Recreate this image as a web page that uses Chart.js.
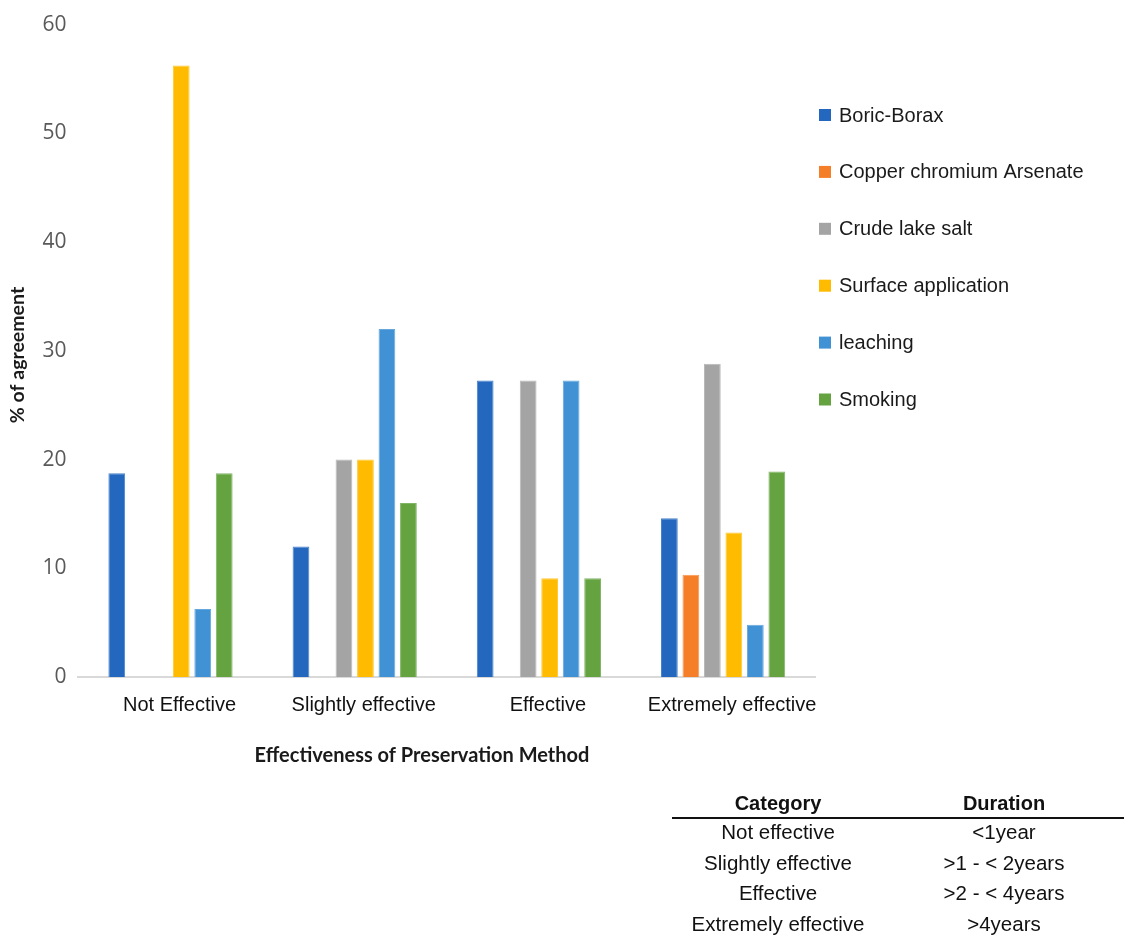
<!DOCTYPE html>
<html>
<head>
<meta charset="utf-8">
<script src="https://cdn.jsdelivr.net/npm/chart.js@4.4.1/dist/chart.umd.min.js"></script>
<style>
  html, body { margin: 0; padding: 0; background: #ffffff; }
  #wrap { position: relative; width: 1124px; height: 937px; overflow: hidden; }
  #chart { position: absolute; left: 0; top: 0; }
  .cell { position: absolute; font-family: "Liberation Sans", Arial, sans-serif; font-size: 20.5px; color: #111; text-align: center; white-space: nowrap; transform: translate(-50%, -50%); }
  .head { font-weight: bold; font-size: 20px; }
  #rule { position: absolute; left: 672px; top: 817px; width: 452px; height: 2px; background: #111; }
</style>
</head>
<body>
<div id="wrap">
  <canvas id="chart" width="1124" height="937"></canvas>
  <div id="rule"></div>
</div>
<script>
// Effectiveness categories on the x axis
const categories = ['Not Effective', 'Slightly effective', 'Effective', 'Extremely effective'];

// % of agreement per preservation method
const boricBorax      = [18.75, 12.0, 27.27, 14.6];
const copperChromium  = [0, 0, 0, 9.4];
const crudeLakeSalt   = [0, 20.0, 27.27, 28.8];
const surfaceApp      = [56.25, 20.0, 9.09, 13.3];
const leaching        = [6.25, 32.0, 27.27, 4.8];
const smoking         = [18.75, 16.0, 9.09, 18.9];

const seriesNames = ['Boric-Borax', 'Copper chromium Arsenate', 'Crude lake salt', 'Surface application', 'leaching', 'Smoking'];
const seriesValues = [boricBorax, copperChromium, crudeLakeSalt, surfaceApp, leaching, smoking];
const seriesColors = ['#2367bf', '#f57f29', '#a4a4a4', '#ffbb00', '#4192d4', '#64a340'];
const seriesEdges  = ['#4a83cc', '#f79852', '#b9b9b9', '#ffc933', '#66a8dd', '#80b566'];

// Y axis range and tick step
const yMin = 0, yMax = 60, yStep = 10;

// Duration table shown under the chart
const tableHeaders = ['Category', 'Duration'];
const tableCategories = ['Not effective', 'Slightly effective', 'Effective', 'Extremely effective'];
const tableDurations = ['<1year', '>1 - < 2years', '>2 - < 4years', '>4years'];

const xTitle = 'Effectiveness of Preservation Method';
const yTitle = '% of agreement';

// build the table as positioned text
(function buildTable() {
  const wrap = document.getElementById('wrap');
  const colX = [778, 1004];
  const headY = 803;
  const rowY0 = 832, rowStep = 30.6;
  tableHeaders.forEach((h, i) => {
    const d = document.createElement('div');
    d.className = 'cell head';
    d.style.left = colX[i] + 'px';
    d.style.top = headY + 'px';
    d.textContent = h;
    wrap.appendChild(d);
  });
  [tableCategories, tableDurations].forEach((col, c) => {
    col.forEach((t, r) => {
      const d = document.createElement('div');
      d.className = 'cell';
      d.style.left = colX[c] + 'px';
      d.style.top = (rowY0 + r * rowStep) + 'px';
      d.textContent = t;
      wrap.appendChild(d);
    });
  });
})();

// legend and axis titles drawn on the canvas
const decorations = {
  id: 'decorations',
  afterDraw(chart) {
    const ctx = chart.ctx;
    ctx.save();
    // legend
    const lx = 819, ly0 = 115, lstep = 56.9, box = 12;
    ctx.font = '20px "Liberation Sans", Arial, sans-serif';
    ctx.textBaseline = 'middle';
    ctx.textAlign = 'left';
    chart.data.datasets.forEach((ds, i) => {
      const y = ly0 + i * lstep;
      ctx.fillStyle = ds.backgroundColor;
      ctx.fillRect(lx, y - box / 2, box, box);
      ctx.fillStyle = '#1a1a1a';
      ctx.fillText(ds.label, lx + box + 8, y + 1);
    });
    // x axis title
    ctx.font = 'bold 20px Lato, "Liberation Sans", sans-serif';
    ctx.fillStyle = '#1a1a1a';
    ctx.textAlign = 'center';
    ctx.fillText(xTitle, 422, 756);
    // y axis title
    ctx.translate(18, 355);
    ctx.rotate(-Math.PI / 2);
    ctx.font = 'bold 19.5px Lato, "Liberation Sans", sans-serif';
    ctx.fillText(yTitle, 0, 0);
    ctx.restore();
  }
};

new Chart(document.getElementById('chart'), {
  type: 'bar',
  data: {
    labels: categories,
    datasets: seriesNames.map((name, i) => ({
      label: name,
      data: seriesValues[i],
      backgroundColor: seriesColors[i],
      borderColor: seriesEdges[i],
      borderWidth: 1,
      borderSkipped: 'bottom',
      categoryPercentage: 0.70,
      barPercentage: 0.78
    }))
  },
  options: {
    responsive: false,
    animation: false,
    devicePixelRatio: 1,
    layout: { padding: { left: 0, top: 22.5, right: 308.8, bottom: 200 } },
    plugins: {
      legend: { display: false },
      tooltip: { enabled: false },
      title: { display: false }
    },
    scales: {
      x: {
        grid: { display: false, drawTicks: false },
        border: { display: true, color: '#d9d9d9', width: 2 },
        ticks: {
          padding: 16,
          labelOffset: 9,
          color: '#111111',
          font: { family: '"Liberation Sans", Arial, sans-serif', size: 20 }
        },
        afterFit(scale) { scale.height = 60; }
      },
      y: {
        min: yMin,
        max: yMax,
        grid: { display: false, drawTicks: false },
        border: { display: false },
        ticks: {
          stepSize: yStep,
          padding: 12,
          color: '#595959',
          font: { family: '"Open Sans", sans-serif', size: 21 }
        },
        afterFit(scale) { scale.width = 78.4; }
      }
    }
  },
  plugins: [decorations]
});
</script>
</body>
</html>
